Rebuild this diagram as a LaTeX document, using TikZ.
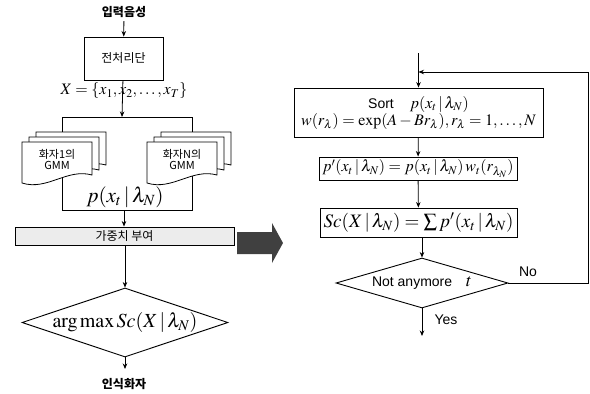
\documentclass[tikz,border=0pt]{standalone}
\usepackage{mathptmx}
\usepackage[no-math]{fontspec}
\setmainfont{Liberation Serif}
\setsansfont{Liberation Sans}
\newfontfamily\kr{Noto Sans CJK KR}
\usetikzlibrary{shapes.geometric,arrows.meta}

\newcommand\fsz[1]{\fontsize{#1}{#1}\selectfont}

\begin{document}
\begin{tikzpicture}[x=1pt,y=-1pt,
  box/.style={draw,line width=0.9pt,inner sep=2pt},
  decide/.style={draw,diamond,line width=0.9pt,inner sep=0pt},
  page/.style={draw,fill=white,line width=0.8pt},
  line/.style={line width=0.8pt},
  flow/.style={line width=0.8pt,-{Stealth[length=5.5pt,width=4.5pt]}},
  kbold/.style={font=\kr\bfseries\fsz{12}}]
  \useasboundingbox (0,0) rectangle (590,394);

  % recognition side
  \node[kbold] (in) at (124,12) {입력음성};
  \node[box,minimum width=79pt,minimum height=43pt,font=\kr\fsz{12}] (pre) at (123.5,58.5) {전처리단};
  \node[font=\fsz{16}] (xs) at (124,91) {$X=\{x_1,x_2,\ldots,x_T\}$};
  \coordinate (t0) at (122,117);
  \coordinate (tl) at (62,117);
  \coordinate (tr) at (192,117);
  \coordinate (bl) at (62,210);
  \coordinate (br) at (192,210);
  \coordinate (b0) at (124,210);

  \draw[flow] (in) -- (pre);
  \draw[flow] (pre) -- (t0);
  \draw[line] (bl) -- (tl) -- (tr) -- (br) -- cycle;

  \foreach \cx/\nm/\txt in {22/g1/화자1의,147/gN/화자N의}{
    \foreach \d/\e in {14/10,7/5,0/0}
      \draw[page] (\cx+\d,142-\e) -- ++(70,0) -- ++(0,33)
        .. controls +(-25,-7) and +(25,8) .. ++(-70,8) -- cycle;
    \node[font=\kr\fsz{11},align=center] (\nm) at (\cx+35,160) {\txt\\GMM};
  }

  \node[font=\fsz{21}] (pl) at (125,197) {$p(x_t\,|\,\lambda_N)$};

  \node[box,fill=gray!15,minimum width=219pt,minimum height=18pt,font=\kr\fsz{12}] (wt) at (124.5,236) {가중치 부여};
  \draw[flow] (b0) -- (wt.north -| b0);

  \node[decide,minimum width=206pt,minimum height=69pt] (dec) at (125,322.5)
    {\makebox[0pt]{\fsz{20}$\arg\max Sc(X\,|\,\lambda_N)$}};
  \draw[flow] (wt.south -| dec) -- (dec);
  \coordinate (o0) at (125,369);
  \draw[flow] (dec) -- (o0);
  \node[kbold] (out) at (124,384) {인식화자};

  % weighting step in detail
  \fill[black!75] (237,232) -- (272,232) -- (272,223) -- (283,243)
    -- (272,263) -- (272,254) -- (237,254) -- cycle;

  \coordinate (st) at (418.5,53);
  \coordinate (lp) at (418.5,72);
  \coordinate (cr) at (588,72);
  \node[box,minimum width=249pt,minimum height=49pt,align=center,font=\fsz{16}] (s1) at (418.5,112.5)
    {{\sffamily\fsz{14}Sort}\quad $p(x_t\,|\,\lambda_N)$\\[1pt]
     $w(r_\lambda)=\exp(A-Br_\lambda), r_\lambda=1,\ldots, N$};
  \node[box,minimum width=198pt,minimum height=23pt,font=\fsz{16}] (s2) at (418,168.5)
    {$p'(x_t\,|\,\lambda_N)=p(x_t\,|\,\lambda_N)\,w_t(r_{\lambda_N})$};
  \node[box,minimum width=197pt,minimum height=29pt,font=\fsz{19}] (s3) at (418.5,222.5)
    {$Sc(X\,|\,\lambda_N)=\sum p'(x_t\,|\,\lambda_N)$};
  \node[decide,minimum width=172pt,minimum height=50pt] (chk) at (422,283)
    {\makebox[0pt]{\fsz{14}\sffamily Not anymore\quad\fsz{18}$t$}};
  \coordinate (e0) at (422,336);

  \draw[line] (st) -- (lp);
  \draw[flow] (lp) -- (s1);
  \draw[flow] (s1) -- (s2);
  \draw[flow] (s2) -- (s3);
  \draw[flow] (s3.south -| chk) -- (chk);
  \draw[flow] (chk.east) -| (cr) -- (lp);
  \draw[flow] (chk) -- (e0);
  \node[font=\sffamily\fsz{14}] (yes) at (446,320) {Yes};
  \node[font=\sffamily\fsz{14}] (no) at (528,272) {No};
\end{tikzpicture}
\end{document}
